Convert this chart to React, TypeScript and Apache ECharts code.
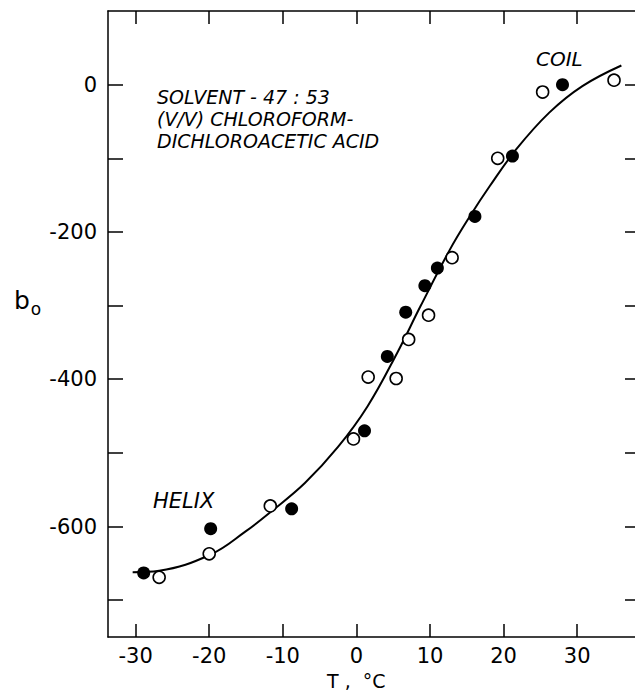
import React, { useEffect, useRef } from "react";
import * as echarts from "echarts";

// Fitted curve
const curveT = [-30.4, -26.8, -19.8, -15.1, -11.5, -7.0, -2.5, 1.5, 5.5, 8.7, 12.7, 15.4, 18.1, 21.7, 26.2, 30.7, 36.0];
const curveB = [-662, -660, -638, -607, -579, -541, -492, -437, -365, -301, -224, -179, -138, -88, -38, -2, 26];

// Filled circles
const filledT = [-28.9, -19.8, -8.8, 1.1, 4.2, 6.7, 9.3, 11.0, 16.1, 21.2, 28.0];
const filledB = [-663, -603, -576, -470, -369, -309, -273, -249, -179, -97, 0];

// Open circles
const openT = [-26.8, -20.0, -11.7, -0.4, 1.6, 5.4, 7.1, 9.8, 13.0, 19.2, 25.3, 35.0];
const openB = [-669, -637, -572, -481, -397, -399, -346, -313, -235, -100, -10, 6];

const xTicks = [-30, -20, -10, 0, 10, 20, 30];
const yTicks = [-700, -600, -500, -400, -300, -200, -100, 0];
const yLabels = [-600, -400, -200, 0];

const FONT = "DejaVu Sans";
const INK = "#000";

export default function App() {
  const ref = useRef<HTMLDivElement>(null);
  useEffect(() => {
    if (!ref.current) return;
    const chart = echarts.init(ref.current, null, { renderer: "svg" });
    const pair = (xs: number[], ys: number[]) => xs.map((x, i) => [x, ys[i]]);
    const axisLine = { show: true, onZero: false, lineStyle: { color: INK, width: 1.5 } };
    const tickStyle = { color: INK, width: 1.5 };
    chart.setOption({
      animation: false,
      backgroundColor: "#fff",
      grid: { left: 108, right: -5, top: 11, bottom: 53 },
      xAxis: [
        {
          type: "value",
          position: "bottom",
          min: -33.75,
          max: 37.85,
          axisLine,
          axisTick: { show: true, inside: true, length: 13, customValues: xTicks, lineStyle: tickStyle },
          axisLabel: {
            show: true,
            customValues: xTicks,
            fontSize: 21,
            fontFamily: FONT,
            color: INK,
            margin: 8,
            formatter: (v: number) => String(v),
          },
          splitLine: { show: false },
        },
        {
          type: "value",
          position: "top",
          min: -33.75,
          max: 37.85,
          axisLine,
          axisTick: { show: true, inside: true, length: 13, customValues: xTicks, lineStyle: tickStyle },
          axisLabel: { show: false },
          splitLine: { show: false },
        },
      ],
      yAxis: [
        {
          type: "value",
          position: "left",
          min: -750,
          max: 100,
          axisLine,
          axisTick: { show: true, inside: true, length: 15, customValues: yTicks, lineStyle: tickStyle },
          axisLabel: {
            show: true,
            customValues: yLabels,
            fontSize: 21,
            fontFamily: FONT,
            color: INK,
            margin: 11,
            formatter: (v: number) => String(v),
          },
          splitLine: { show: false },
        },
        {
          type: "value",
          position: "right",
          min: -750,
          max: 100,
          axisLine: { show: false, onZero: false },
          axisTick: { show: true, inside: true, length: 10, customValues: yTicks, lineStyle: tickStyle },
          axisLabel: { show: false },
          splitLine: { show: false },
        },
      ],
      series: [
        {
          type: "line",
          data: pair(curveT, curveB),
          symbol: "none",
          smooth: 0.4,
          lineStyle: { color: INK, width: 2 },
          z: 1,
        },
        {
          type: "scatter",
          data: pair(filledT, filledB),
          symbol: "circle",
          symbolSize: 13,
          itemStyle: { color: INK, opacity: 1 },
          z: 3,
        },
        {
          type: "scatter",
          data: pair(openT, openB),
          symbol: "circle",
          symbolSize: 12,
          itemStyle: { color: "#fff", borderColor: INK, borderWidth: 1.6, opacity: 1 },
          z: 3,
        },
      ],
      graphic: [
        {
          type: "text",
          left: 157,
          top: 86,
          style: {
            text: "SOLVENT - 47 : 53\n(V/V) CHLOROFORM-\nDICHLOROACETIC ACID",
            font: `italic 19px "${FONT}"`,
            lineHeight: 22,
            fill: INK,
          },
        },
        {
          type: "text",
          left: 536,
          top: 49,
          style: { text: "COIL", font: `italic 20px "${FONT}"`, fill: INK },
        },
        {
          type: "text",
          left: 153,
          top: 490,
          style: { text: "HELIX", font: `italic 21px "${FONT}"`, fill: INK },
        },
        {
          type: "text",
          left: 14,
          top: 288,
          style: {
            text: "{b|b}{s|o}",
            rich: {
              b: { fontSize: 25, fontFamily: FONT, fill: INK, color: INK, verticalAlign: "top", lineHeight: 28 },
              s: { fontSize: 17, fontFamily: FONT, fill: INK, color: INK, verticalAlign: "top", lineHeight: 17, padding: [12, 0, 0, 1] },
            },
          },
        },
        {
          type: "text",
          left: 327,
          top: 671,
          style: { text: "T ,  °C", font: `19px "${FONT}"`, fill: INK },
        },
      ],
    });
    return () => chart.dispose();
  }, []);
  return (
    <div
      ref={ref}
      style={{ position: "fixed", left: 0, top: 0, width: 635, height: 690, background: "#fff" }}
    />
  );
}
